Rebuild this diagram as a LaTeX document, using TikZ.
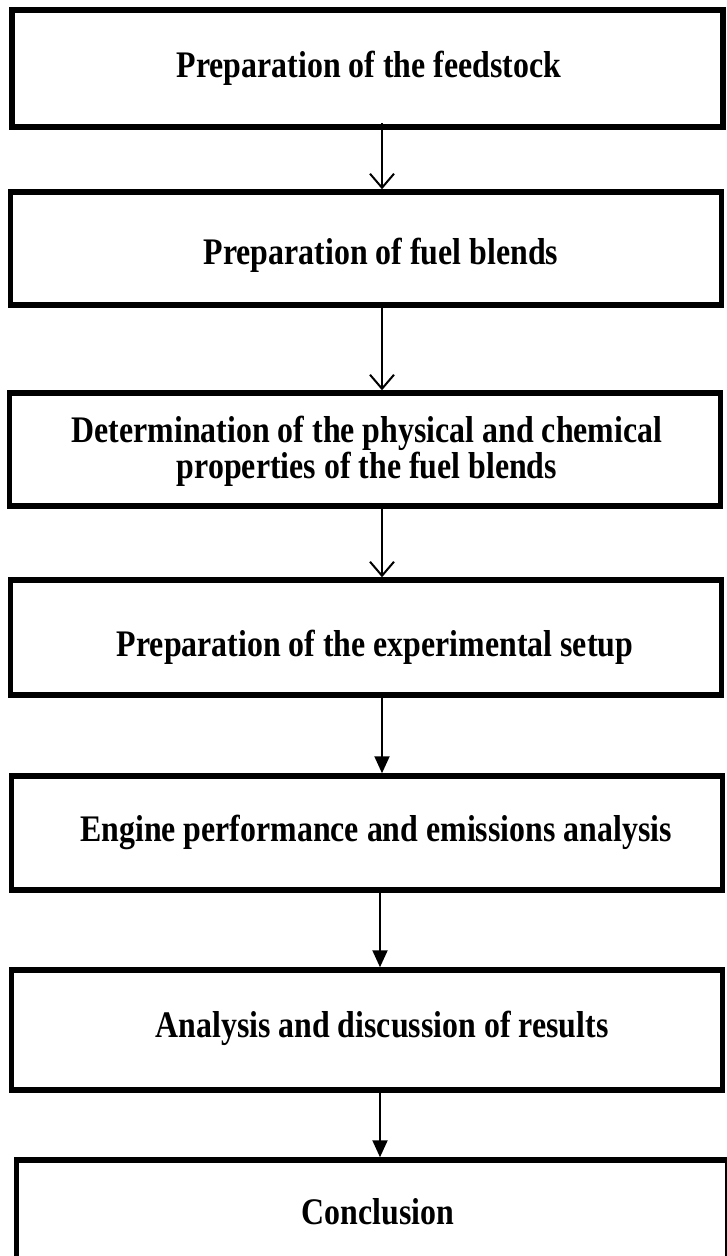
\documentclass[tikz,border=0pt]{standalone}
\usepackage{fontspec}
\setmainfont{Liberation Serif}[FakeStretch=0.85]
\usetikzlibrary{arrows.meta}
\tikzset{
  stepbox/.style={draw=black, line width=5.5pt, rectangle, minimum width=711pt, minimum height=115pt, inner sep=0pt},
  steptext/.style={align=center, inner sep=0pt, font=\bfseries\fontsize{37.5}{36}\selectfont},
  openarrow/.style={draw=black, line width=2pt, -{Straight Barb[length=14pt,width=24pt,line width=2pt]}},
  fillarrow/.style={draw=black, line width=2pt, -{Triangle[length=17pt,width=15pt]}}
}
\begin{document}
\begin{tikzpicture}[x=1pt,y=-1pt]
\useasboundingbox (0,0) rectangle (727,1256);
\node[stepbox, minimum height=117pt] (b1) at (367.5,68.5) {};
\node[stepbox, minimum height=113pt] (b2) at (366,248.5) {};
\node[stepbox, minimum height=113pt] (b3) at (365,449.5) {};
\node[stepbox, minimum height=115pt] (b4) at (366,637.5) {};
\node[stepbox, minimum height=114pt] (b5) at (367,833) {};
\node[stepbox, minimum height=120pt] (b6) at (367,1030) {};
\node[stepbox, minimum height=116pt] (b7) at (372,1218) {};
\node[steptext] (t1) at (369,68) {Preparation of the feedstock};
\node[steptext] (t2) at (381,255) {Preparation of fuel blends};
\node[steptext] (t3) at (367,451) {Determination of the physical and chemical\\properties of the fuel blends};
\node[steptext] (t4) at (375,647) {Preparation of the experimental setup};
\node[steptext] (t5) at (376,832) {Engine performance and emissions analysis};
\node[steptext] (t6) at (382,1028) {Analysis and discussion of results};
\node[steptext] (t7) at (378,1212) {Conclusion};
\coordinate (ax) at (382,0);
\coordinate (bx) at (380,0);
\draw[openarrow] ([yshift=7pt]b1.south -| ax) -- (b2.north -| ax);
\draw[openarrow] (b2.south -| ax) -- (b3.north -| ax);
\draw[openarrow] (b3.south -| ax) -- (b4.north -| ax);
\draw[fillarrow] (b4.south -| ax) -- (b5.north -| ax);
\draw[fillarrow] (b5.south -| bx) -- (b6.north -| bx);
\draw[fillarrow] (b6.south -| bx) -- (b7.north -| bx);
\end{tikzpicture}
\end{document}
